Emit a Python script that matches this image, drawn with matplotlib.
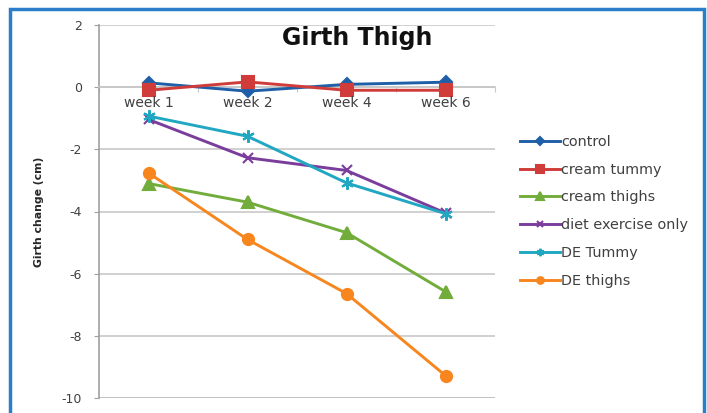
import matplotlib
matplotlib.use("Agg")
import matplotlib.pyplot as plt
from matplotlib.patches import Rectangle

weeks = ["week 1", "week 2", "week 4", "week 6"]
control = [0.14, -0.13, 0.09, 0.16]
cream_tummy = [-0.1, 0.17, -0.1, -0.1]
cream_thighs = [-3.1, -3.7, -4.68, -6.58]
diet_exercise = [-1.04, -2.27, -2.68, -4.05]
de_tummy = [-0.93, -1.58, -3.08, -4.07]
de_thighs = [-2.76, -4.9, -6.64, -9.28]

y_ticks = [2, 0, -2, -4, -6, -8, -10]

plt.rcParams["font.family"] = ["DejaVu Sans"]
plt.rcParams["axes.unicode_minus"] = False

W, H = 707, 413
fig = plt.figure(figsize=(W / 100, H / 100), dpi=100)
fig.patch.set_facecolor("white")

# outer chart border
fig.patches.append(Rectangle((10 / W, -0.05), (704 - 10) / W, (H - 9) / H + 0.05,
                             transform=fig.transFigure, fill=False,
                             edgecolor="#2b7ec9", linewidth=2.5, zorder=10))

ax = fig.add_axes([99 / W, 15 / H, 396 / W, (398 - 25) / H])
x = [i + 0.5 for i in range(len(weeks))]

series = [
    ("control", control, "#1f5fa8", "D", 6.5),
    ("cream tummy", cream_tummy, "#cf3c3a", "s", 8.5),
    ("cream thighs", cream_thighs, "#72ad3c", "^", 8.5),
    ("diet exercise only", diet_exercise, "#7a3d9c", "x", 7.5),
    ("DE Tummy", de_tummy, "#20a7c2", (6, 2, 0), 9),
    ("DE thighs", de_thighs, "#f7861f", "o", 8),
]
for name, vals, col, mk, ms in series:
    ax.plot(x, vals, color=col, linewidth=2.1, marker=mk, markersize=ms,
            markeredgecolor=col, markerfacecolor=col, markeredgewidth=1.5,
            label=name, zorder=3)

ax.set_xlim(0, len(weeks))
ax.set_ylim(-10, 2)
ax.set_yticks(y_ticks)
ax.set_yticklabels([str(v) for v in y_ticks], fontsize=9, color="#404040")
ax.yaxis.grid(True, color="#c8c8c8", linewidth=1.2, zorder=0)
ax.tick_params(axis="y", length=3.6, color="#a0a0a0", pad=8.5)

# category axis crossing at zero, with boundary tick marks
ax.spines["bottom"].set_position(("data", 0))
ax.spines["bottom"].set_color("#c8c8c8")
ax.spines["bottom"].set_linewidth(1.2)
ax.set_xticks(range(len(weeks) + 1))
ax.set_xticklabels([])
ax.tick_params(axis="x", length=3.5, color="#c8c8c8", direction="out")

for s in ["top", "right"]:
    ax.spines[s].set_visible(False)
ax.spines["left"].set_color("#a0a0a0")
ax.spines["left"].set_linewidth(1.2)
ax.axhline(-10, color="#a0a0a0", linewidth=1.2, zorder=1)

for xi, lab in zip(x, weeks):
    ax.text(xi, -0.28, lab, ha="center", va="top", fontsize=10, color="#404040")

ax.set_ylabel("Girth change (cm)", fontsize=7.8, fontweight="bold",
              color="#262626", labelpad=13)
fig.text(357 / W, 1 - 38 / H, "Girth Thigh", ha="center", va="center",
         fontsize=17, fontweight="bold", color="#111111")

fig.legend(loc="upper left", bbox_to_anchor=(520 / W, 1 - 135 / H), frameon=False,
           fontsize=10.4, handlelength=2.8, handletextpad=0.05, labelspacing=0.95,
           borderaxespad=0, borderpad=0, markerscale=0.6, labelcolor="#404040")

fig.savefig("out.png", dpi=100)
